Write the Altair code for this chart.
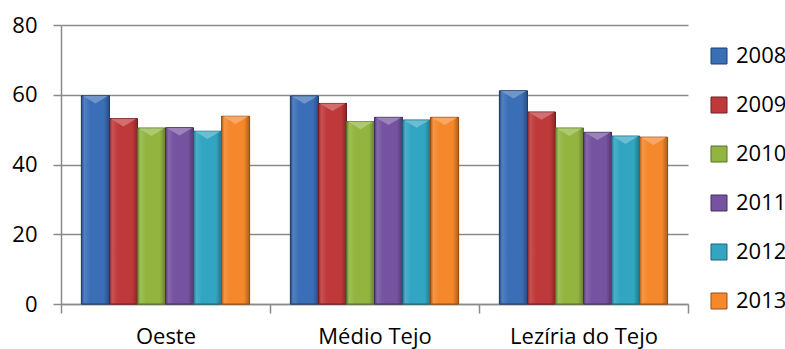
import altair as alt
import pandas as pd

# Regions and years shown in the grouped bar chart
regions = ["Oeste", "Médio Tejo", "Lezíria do Tejo"]
years = ["2008", "2009", "2010", "2011", "2012", "2013"]

# One value per year for each region
oeste = [59.7, 53.1, 50.4, 50.5, 49.5, 53.8]
medio_tejo = [59.6, 57.5, 52.3, 53.5, 52.7, 53.5]
leziria = [61.1, 55.0, 50.4, 49.2, 48.1, 47.8]

# Series colours (fill and darker edge)
fill_colors = ["#3A6FB8", "#C0393A", "#93B540", "#7553A0", "#32A5C3", "#F5882A"]
edge_colors = ["#1F3F6E", "#6E1F20", "#56702A", "#43305F", "#1C6478", "#9A4E12"]

rows = []
for region, values in zip(regions, [oeste, medio_tejo, leziria]):
    for year, v in zip(years, values):
        rows.append({"region": region, "year": year, "value": v})
df = pd.DataFrame(rows)

font = "Open Sans"


def mix(hex_color, other, t):
    """Blend hex_color towards other by fraction t."""
    a = [int(hex_color[i:i + 2], 16) for i in (1, 3, 5)]
    b = [int(other[i:i + 2], 16) for i in (1, 3, 5)]
    c = [round(x + (y - x) * t) for x, y in zip(a, b)]
    return "#" + "".join(f"{v:02X}" for v in c)


x_enc = alt.X(
    "region:N",
    sort=regions,
    scale=alt.Scale(paddingInner=0, paddingOuter=0),
    axis=alt.Axis(
        title=None,
        labelAngle=0,
        tickBand="extent",
        tickSize=9,
        labelPadding=13,
        grid=False,
    ),
)
xoff_enc = alt.XOffset(
    "year:N",
    sort=years,
    scale=alt.Scale(paddingInner=0, paddingOuter=0.73),
)
y_enc = alt.Y(
    "value:Q",
    scale=alt.Scale(domain=[0, 80], nice=False),
    axis=alt.Axis(
        title=None,
        values=[0, 20, 40, 60, 80],
        tickSize=8,
        labelPadding=16,
        grid=True,
        domain=True,
    ),
)

base = alt.Chart(df)

# Solid bars carrying the legend
bars = base.mark_bar(strokeWidth=1).encode(
    x=x_enc,
    xOffset=xoff_enc,
    y=y_enc,
    color=alt.Color(
        "year:N",
        sort=years,
        scale=alt.Scale(domain=years, range=fill_colors),
        legend=alt.Legend(
            title=None,
            orient="none",
            legendX=647,
            legendY=20,
            symbolType="square",
            symbolSize=256,
            symbolStrokeWidth=1,
            rowPadding=27,
            labelOffset=6,
            padding=0,
        ),
    ),
    stroke=alt.Stroke(
        "year:N",
        sort=years,
        scale=alt.Scale(domain=years, range=edge_colors),
        legend=None,
    ),
)

layers = [bars]

# Bevelled shading drawn over each series
for year, fc, ec in zip(years, fill_colors, edge_colors):
    grad = alt.Gradient(
        gradient="linear",
        x1=0, x2=1, y1=0, y2=0,
        stops=[
            alt.GradientStop(color=mix(fc, "#000000", 0.30), offset=0),
            alt.GradientStop(color=mix(fc, "#FFFFFF", 0.12), offset=0.10),
            alt.GradientStop(color=fc, offset=0.30),
            alt.GradientStop(color=fc, offset=0.80),
            alt.GradientStop(color=mix(fc, "#000000", 0.30), offset=1),
        ],
    )
    shade = base.mark_bar(color=grad, stroke=ec, strokeWidth=1).encode(
        x=x_enc, xOffset=xoff_enc, y=y_enc
    ).transform_filter(alt.datum.year == year)
    cap = base.mark_point(
        shape="M-1,0 L1,0 L0,0.6 Z",
        size=650,
        filled=True,
        fill=mix(fc, "#FFFFFF", 0.30),
        opacity=0.9,
        strokeWidth=0,
    ).encode(
        x=x_enc, xOffset=xoff_enc, y=y_enc
    ).transform_filter(alt.datum.year == year)
    layers += [shade, cap]

chart = alt.layer(*layers).properties(
    width=627,
    height=279,
    autosize=alt.AutoSizeParams(type="none"),
    padding={"left": 61, "top": 25, "right": 97, "bottom": 45},
).configure_view(
    stroke=None
).configure_axis(
    labelFont=font,
    labelFontSize=22,
    labelColor="#000000",
    tickColor="#8A8A8A",
    tickWidth=1.5,
    domainColor="#8A8A8A",
    domainWidth=1.5,
    gridColor="#8A8A8A",
    gridWidth=1.5,
).configure_legend(
    labelFont=font,
    labelFontSize=22,
    labelColor="#000000",
)

chart.save("out.html", embed_options={"renderer": "svg", "actions": False})
